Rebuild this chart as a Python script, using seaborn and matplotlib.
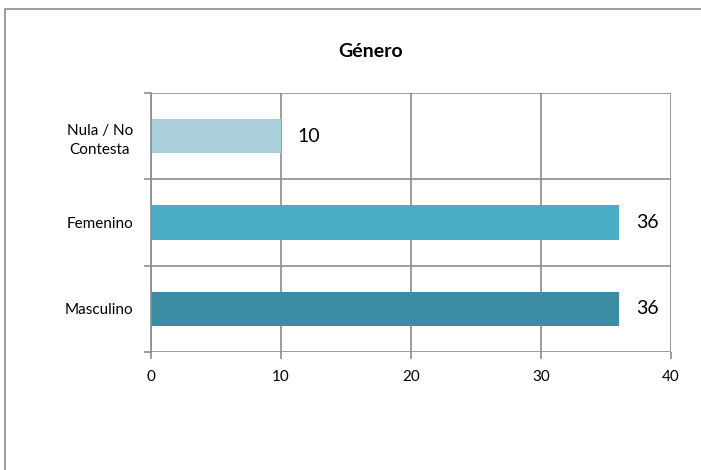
import pandas as pd
import seaborn as sns
import matplotlib.pyplot as plt
from matplotlib.patches import Rectangle

# datos
categorias = ['Nula / No\nContesta', 'Femenino', 'Masculino']
valores = [10, 36, 36]
colores = ['#A9CFDD', '#4BACC6', '#3C8CA3']
ticks_x = [0, 10, 20, 30, 40]

df = pd.DataFrame({'categoria': categorias, 'valor': valores})

sns.set_style('white')
plt.rcParams['font.family'] = ['Lato', 'DejaVu Sans']
plt.rcParams['text.color'] = 'black'
plt.rcParams['xtick.labelcolor'] = 'black'
plt.rcParams['ytick.labelcolor'] = 'black'

fig = plt.figure(figsize=(7.01, 4.70), dpi=100)
ax = fig.add_axes([151 / 701, 1 - 352 / 470, 520 / 701, 259 / 470])

sns.barplot(data=df, x='valor', y='categoria', hue='categoria', palette=colores,
            order=categorias, width=0.4, legend=False, ax=ax, saturation=1,
            edgecolor='none')

gris = '#8C8C8C'
ax.set_xlim(0, 40)
ax.set_ylim(2.5, -0.5)
ax.set_xticks(ticks_x)
ax.set_xticklabels([str(t) for t in ticks_x], fontsize=11)
ax.set_yticks([-0.5, 0.5, 1.5, 2.5], minor=True)
ax.tick_params(axis='y', which='major', length=0, pad=13, labelsize=11)
ax.tick_params(axis='y', which='minor', length=5, width=1.2, color=gris, direction='out', left=True)
ax.tick_params(axis='x', length=5, width=1.2, color=gris, direction='out', bottom=True, pad=8)
for lbl in ax.get_yticklabels():
    lbl.set_multialignment('center')
    lbl.set_linespacing(1.5)

ax.grid(False)
ax.xaxis.grid(True, color=gris, linewidth=1.2)
ax.yaxis.grid(True, which='minor', color=gris, linewidth=1.2)
ax.set_axisbelow(True)
for s in ['top', 'right', 'bottom']:
    ax.spines[s].set_visible(False)
ax.spines['left'].set_color(gris)
ax.spines['left'].set_linewidth(1.2)
ax.set_xlabel('')
ax.set_ylabel('')

# etiquetas de valor
for i, v in enumerate(valores):
    ax.annotate(str(v), xy=(v, i), xytext=(12, 0), textcoords='offset points',
                va='center', ha='left', fontsize=14, color='black')

fig.text(371 / 701, 1 - 52 / 470, 'Género', ha='center', va='center',
         fontsize=14, fontweight='bold', color='black')

# marco del gráfico
fig.patches.append(Rectangle((5 / 701, -0.1), 1.1, 1 - 9 / 470 + 0.1,
                             transform=fig.transFigure, fill=False,
                             edgecolor='#8C8C8C', linewidth=1.2))

fig.savefig('out.png', dpi=100)
